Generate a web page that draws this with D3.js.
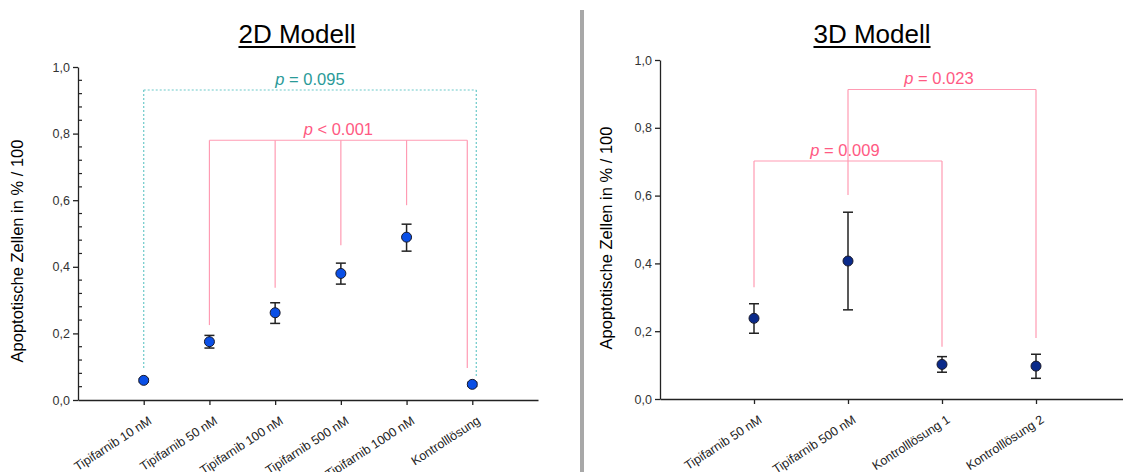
<!DOCTYPE html>
<html>
<head>
<meta charset="utf-8">
<script src="https://cdn.jsdelivr.net/npm/d3@7"></script>
<style>
  body { margin: 0; background: #fff; }
  svg { font-family: "Liberation Sans", Arial, sans-serif; }
</style>
</head>
<body>
<svg id="chart" width="1123" height="472"></svg>
<script>
// 2D model
var cats2D = ["Tipifarnib 10 nM", "Tipifarnib 50 nM", "Tipifarnib 100 nM", "Tipifarnib 500 nM", "Tipifarnib 1000 nM", "Kontrolllösung"];
var mean2D = [0.059, 0.175, 0.262, 0.380, 0.489, 0.047];
var low2D  = [0.054, 0.156, 0.230, 0.348, 0.447, 0.041];
var high2D = [0.064, 0.194, 0.292, 0.411, 0.528, 0.053];

// 3D model
var cats3D = ["Tipifarnib 50 nM", "Tipifarnib 500 nM", "Kontrolllösung 1", "Kontrolllösung 2"];
var mean3D = [0.238, 0.407, 0.102, 0.097];
var low3D  = [0.194, 0.263, 0.079, 0.061];
var high3D = [0.281, 0.551, 0.125, 0.132];

var yTicks = [0, 0.2, 0.4, 0.6, 0.8, 1.0];
var yMinor = [0.04, 0.08, 0.12, 0.16, 0.24, 0.28, 0.32, 0.36, 0.44, 0.48, 0.52, 0.56, 0.64, 0.68, 0.72, 0.76, 0.84, 0.88, 0.92, 0.96];

// significance brackets: level, label, legs [category, bottom value]
var brackets2D = [
  { label: "0.095", op: "=", level: 0.931, kind: "teal",
    legs: [["Tipifarnib 10 nM", 0.096], ["Kontrolllösung", 0.070]] },
  { label: "0.001", op: "<", level: 0.78, kind: "pink",
    legs: [["Tipifarnib 50 nM", 0.225], ["Tipifarnib 100 nM", 0.337], ["Tipifarnib 500 nM", 0.465],
           ["Tipifarnib 1000 nM", 0.585], ["Kontrolllösung", 0.096]] }
];
var brackets3D = [
  { label: "0.009", op: "=", level: 0.702, kind: "pink",
    legs: [["Tipifarnib 50 nM", 0.330], ["Kontrolllösung 1", 0.154]] },
  { label: "0.023", op: "=", level: 0.913, kind: "pink",
    legs: [["Tipifarnib 500 nM", 0.602], ["Kontrolllösung 2", 0.180]] }
];

var svg = d3.select("#chart");
var fmt = function (d) { return d3.format(".1f")(d).replace(".", ","); };

// divider
svg.append("line").attr("x1", 582).attr("x2", 582).attr("y1", 10).attr("y2", 472)
  .attr("stroke", "#a8a8a8").attr("stroke-width", 4);

function panel(opt) {
  var g = svg.append("g");
  var x = d3.scalePoint().domain(opt.cats).range([opt.x0, opt.x1]).padding(1);
  var y = d3.scaleLinear().domain([0, 1]).range([opt.yBottom, opt.yTop]);

  // title
  var title = g.append("text").attr("x", opt.titleX).attr("y", 43)
    .attr("text-anchor", "middle").attr("font-size", 26).attr("fill", "#000")
    .text(opt.title);
  var tw = title.node().getComputedTextLength();
  g.append("line").attr("x1", opt.titleX - tw / 2).attr("x2", opt.titleX + tw / 2)
    .attr("y1", 47).attr("y2", 47).attr("stroke", "#000").attr("stroke-width", 2);

  // y axis
  var ya = g.append("g").attr("transform", "translate(" + opt.x0 + ",0)")
    .call(d3.axisLeft(y).tickValues(yTicks).tickFormat(fmt).tickSize(5).tickSizeOuter(0));
  ya.select(".domain").attr("stroke", "#222").attr("stroke-width", 1.3);
  ya.selectAll(".tick line").attr("stroke", "#222").attr("stroke-width", 1.3);
  ya.selectAll(".tick text").attr("font-size", 12.5).attr("fill", "#333")
    .attr("font-family", "Liberation Sans, Arial, sans-serif");
  if (opt.minor) {
    g.selectAll(".minor").data(yMinor).enter().append("line")
      .attr("x1", opt.x0).attr("x2", opt.x0 + 4)
      .attr("y1", function (d) { return y(d); }).attr("y2", function (d) { return y(d); })
      .attr("stroke", "#222").attr("stroke-width", 1.2);
  }

  // x axis
  var xa = g.append("g").attr("transform", "translate(0," + opt.yBottom + ")")
    .call(d3.axisBottom(x).tickSize(5).tickSizeOuter(0));
  xa.select(".domain").attr("stroke", "#222").attr("stroke-width", 1.3);
  xa.selectAll(".tick line").attr("stroke", "#222").attr("stroke-width", 1.3);
  xa.selectAll(".tick text").attr("font-size", 12.5).attr("fill", "#222")
    .attr("font-family", "Liberation Sans, Arial, sans-serif")
    .attr("text-anchor", "end").attr("dy", null)
    .attr("transform", "translate(4,16) rotate(-33)");

  // y title
  g.append("text").attr("transform", "translate(" + opt.yTitleX + "," + opt.yTitleY + ") rotate(-90)")
    .attr("text-anchor", "middle").attr("font-size", 16.5).attr("fill", "#000")
    .text("Apoptotische Zellen in % / 100");

  // brackets
  opt.brackets.forEach(function (b) {
    var col = b.kind === "teal" ? "#6cc9c9" : "#ff9bb3";
    var tcol = b.kind === "teal" ? "#2a9a98" : "#ff5a83";
    var xs = b.legs.map(function (l, i) {
      var px = x(l[0]);
      if (opt.shiftLast && i === b.legs.length - 1) px += (b.kind === "teal" ? 4 : -5);
      return px;
    });
    var dash = b.kind === "teal" ? "2,2" : null;
    g.append("line").attr("x1", xs[0]).attr("x2", xs[xs.length - 1])
      .attr("y1", y(b.level)).attr("y2", y(b.level))
      .attr("stroke", col).attr("stroke-width", 1.2).attr("stroke-dasharray", dash);
    b.legs.forEach(function (l, i) {
      g.append("line").attr("x1", xs[i]).attr("x2", xs[i])
        .attr("y1", y(b.level)).attr("y2", y(l[1]))
        .attr("stroke", col).attr("stroke-width", 1.2).attr("stroke-dasharray", dash);
    });
    var cx = (xs[0] + xs[xs.length - 1]) / 2 + (opt.labelShift || 0);
    var t = g.append("text").attr("x", cx).attr("y", y(b.level) - 5)
      .attr("text-anchor", "middle").attr("font-size", 16.5).attr("fill", tcol);
    t.append("tspan").attr("font-style", "italic").text("p");
    t.append("tspan").text(" " + b.op + " " + b.label);
  });

  // error bars
  var eb = g.selectAll(".eb").data(opt.cats).enter().append("g");
  eb.append("line")
    .attr("x1", function (d) { return x(d); }).attr("x2", function (d) { return x(d); })
    .attr("y1", function (d, i) { return y(opt.low[i]); })
    .attr("y2", function (d, i) { return y(opt.high[i]); })
    .attr("stroke", "#222").attr("stroke-width", 1.5);
  [opt.low, opt.high].forEach(function (arr) {
    eb.append("line")
      .attr("x1", function (d) { return x(d) - 5; }).attr("x2", function (d) { return x(d) + 5; })
      .attr("y1", function (d, i) { return y(arr[i]); })
      .attr("y2", function (d, i) { return y(arr[i]); })
      .attr("stroke", "#222").attr("stroke-width", 1.5);
  });

  // points
  g.selectAll(".pt").data(opt.cats).enter().append("circle")
    .attr("cx", function (d) { return x(d); })
    .attr("cy", function (d, i) { return y(opt.mean[i]); })
    .attr("r", 5)
    .attr("fill", opt.fill).attr("stroke", "#1a1a2a").attr("stroke-width", 1);
}

panel({
  cats: cats2D, mean: mean2D, low: low2D, high: high2D, brackets: brackets2D,
  x0: 78, x1: 538, yBottom: 400, yTop: 67, minor: true, shiftLast: true,
  title: "2D Modell", titleX: 297, yTitleX: 23, yTitleY: 251, fill: "#0a4fe6"
});

panel({
  cats: cats3D, mean: mean3D, low: low3D, high: high3D, brackets: brackets3D,
  x0: 660, x1: 1130, yBottom: 399, yTop: 60, minor: false,
  title: "3D Modell", titleX: 872, yTitleX: 612, yTitleY: 238, fill: "#0a2a8a",
  labelShift: -3
});
</script>
</body>
</html>
